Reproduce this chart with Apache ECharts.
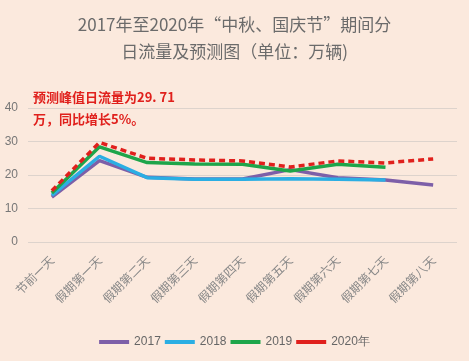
<!DOCTYPE html>
<html><head><meta charset="utf-8">
<script src="https://cdn.jsdelivr.net/npm/echarts@6/dist/echarts.min.js"></script>
<style>html,body{margin:0;padding:0;background:#FBE9DD;}#c{width:469px;height:361px;}</style>
</head><body><div id="c"></div>
<script>
var categories = ['节前一天','假期第一天','假期第二天','假期第三天','假期第四天','假期第五天','假期第六天','假期第七天','假期第八天'];
var s2017 = [13.4, 24.3, 19.3, 18.8, 18.8, 21.6, 19.2, 18.5, 17.0];
var s2018 = [13.9, 25.6, 19.2, 18.7, 18.7, 18.9, 18.7, 18.5, null];
var s2019 = [14.6, 28.4, 23.7, 23.3, 23.2, 21.2, 23.2, 22.3, null];
var s2020 = [15.3, 29.71, 25.0, 24.5, 24.2, 22.4, 24.2, 23.6, 24.8];
var yTicks = [0, 10, 20, 30, 40];
var seriesNames = ['2017','2018','2019','2020年'];

var chart = echarts.init(document.getElementById('c'));
var mk = function(name, data, color, dashed){
  return {name:name, type:'line', data:data, symbol:'none', connectNulls:false,
    lineStyle:{color:color, width:3.5, type:dashed?[6,4]:'solid'},
    itemStyle:{color:color}, z: dashed?5:2};
};
chart.setOption({
  backgroundColor:'#FBE9DD',
  title:{text:'2017年至2020年“中秋、国庆节”期间分\n日流量及预测图（单位：万辆)', left:'center', top:6,
    textStyle:{color:'#6b6b6b', fontSize:17, fontWeight:'normal', lineHeight:27, fontFamily:'Noto Sans CJK SC'}},
  graphic:[{type:'text', left:33, top:86, style:{text:'预测峰值日流量为29. 71\n万，同比增长5%。', fill:'#E0201C', font:'bold 13px "Noto Sans CJK SC"', lineHeight:22}}],
  grid:{left:28, right:12, top:108, bottom:119},
  legend:{bottom:8, left:'center', itemWidth:30, itemHeight:4, itemGap:4, icon:'rect',
    textStyle:{color:'#666', fontSize:12}, data:seriesNames},
  xAxis:{type:'category', data:categories, boundaryGap:true,
    axisLine:{show:false}, axisTick:{show:false},
    axisLabel:{rotate:45, color:'#888', fontSize:12, interval:0, margin:16, fontFamily:'Noto Sans CJK SC'}},
  yAxis:{type:'value', min:yTicks[0], max:yTicks[yTicks.length-1], interval:10,
    axisLine:{show:false}, axisTick:{show:false},
    axisLabel:{color:'#777', fontSize:12, margin:10},
    splitLine:{lineStyle:{color:'#ddd3cc', width:1}}},
  series:[
    mk(seriesNames[0], s2017, '#7D5FA8', false),
    mk(seriesNames[1], s2018, '#2BAEE3', false),
    mk(seriesNames[2], s2019, '#1EA54A', false),
    mk(seriesNames[3], s2020, '#E0201C', true)
  ]
});
</script></body></html>
